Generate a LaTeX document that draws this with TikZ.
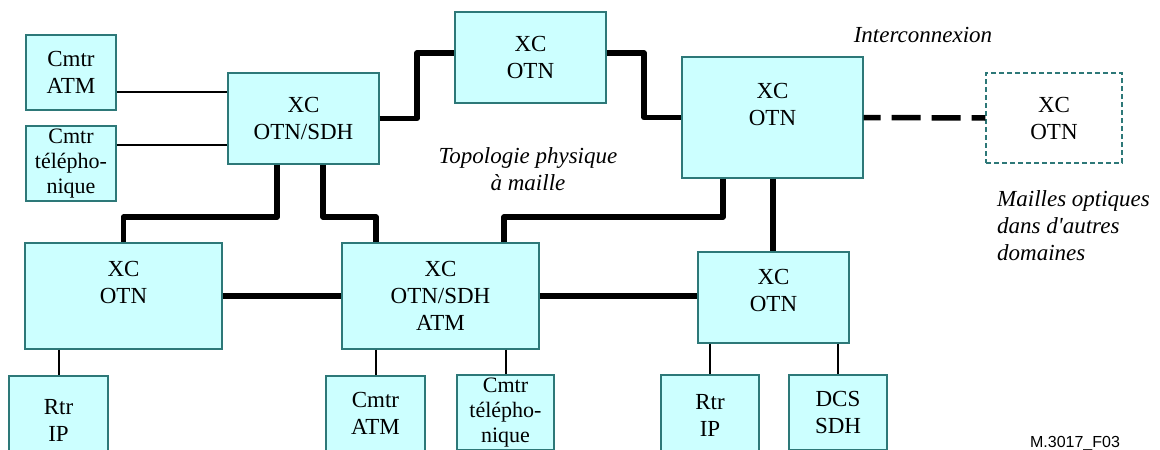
\documentclass[tikz,border=0pt]{standalone}
\usepackage{fontspec}
\setmainfont{Liberation Serif}
\newfontfamily\refsans{Liberation Sans}
\usepackage{xcolor}
\usepackage{tikz}

\definecolor{boxfill}{RGB}{204,255,255}
\definecolor{boxedge}{RGB}{45,120,120}

\begin{document}
\begin{tikzpicture}[x=1pt, y=-1pt,
  box/.style={draw=boxedge, fill=boxfill, line width=1.2pt, inner sep=0pt,
    align=center, font=\fontsize{23}{27}\selectfont},
  telbox/.style={box, font=\fontsize{22}{25}\selectfont},
  extbox/.style={box, fill=white, dash pattern=on 5pt off 3pt},
  link/.style={line width=2pt},
  trunk/.style={line width=5.5pt, line join=round},
  trunkdash/.style={line width=5.5pt, dash pattern=on 29pt off 11pt, dash phase=12pt},
  note/.style={inner sep=0pt, font=\fontsize{23}{27}\selectfont\itshape}]

  \useasboundingbox (0,0) rectangle (1160,450);
  \clip (0,0) rectangle (1160,450);

  % upper row
  \node[box, minimum width=90pt, minimum height=75pt] (atm1) at (71,72.5) {Cmtr\\ATM};
  \node[telbox, minimum width=90pt, minimum height=75pt] (tel1) at (71,163.5) {Cmtr\\télépho-\\nique};
  \node[box, minimum width=151pt, minimum height=91pt] (xc1) at (303.5,118.5) {XC\\OTN/SDH};
  \node[box, minimum width=151pt, minimum height=91pt] (xc2) at (530.5,57.5) {XC\\OTN};
  \node[box, minimum width=181pt, minimum height=121pt] (xc3) at (772.5,117.5) {XC\\OTN\\\mbox{}};
  \node[extbox, minimum width=136pt, minimum height=90pt] (ext) at (1054,118) {XC\\OTN};

  % lower row
  \node[box, minimum width=197pt, minimum height=106pt] (xc4) at (123.5,296) {XC\\OTN\\\mbox{}};
  \node[box, minimum width=197pt, minimum height=106pt] (xc5) at (440.5,296) {XC\\OTN/SDH\\ATM};
  \node[box, minimum width=151pt, minimum height=91pt] (xc6) at (773.5,297.5) {XC\\OTN\\[-13.5pt]\mbox{}};

  % access equipment
  \node[box, minimum width=99pt, minimum height=88pt] (rtr1) at (58.5,420) {Rtr\\IP};
  \node[box, minimum width=99pt, minimum height=75pt] (atm2) at (375.5,413.5) {Cmtr\\ATM};
  \node[telbox, minimum width=97pt, minimum height=75pt] (tel2) at (505.5,412.5) {Cmtr\\télépho-\\nique};
  \node[box, minimum width=98pt, minimum height=80pt] (rtr2) at (710,415) {Rtr\\IP};
  \node[box, minimum width=98pt, minimum height=75pt] (dcs) at (838,412.5) {DCS\\SDH};

  % thin links
  \draw[link] (atm1.east |- 0,92) -- (xc1.west |- 0,92);
  \draw[link] (tel1.east |- 0,145) -- (xc1.west |- 0,145);
  \draw[link] (rtr1.north |- xc4.south) -- (rtr1.north);
  \draw[link] (atm2.north |- xc5.south) -- (atm2.north);
  \draw[link] (tel2.north |- xc5.south) -- (tel2.north);
  \draw[link] (rtr2.north |- xc6.south) -- (rtr2.north);
  \draw[link] (dcs.north |- xc6.south) -- (dcs.north);

  % mesh
  \draw[trunk] (xc1.east) -- (417,118.5) |- (xc2.west |- 0,53);
  \draw[trunk] (xc2.east |- 0,53) -- (644,53) |- (xc3.west);
  \draw[trunk] (xc1.south -| 277,0) -- (277,217) -| (xc4.north);
  \draw[trunk] (xc1.south -| 323,0) -- (323,217) -| (xc5.north -| 376,0);
  \draw[trunk] (xc3.south -| 723,0) -- (723,217) -| (xc5.north -| 504,0);
  \draw[trunk] (xc3.south -| 773,0) -- (xc6.north -| 773,0);
  \draw[trunk] (xc4.east) -- (xc5.west);
  \draw[trunk] (xc5.east) -- (xc6.west |- xc5.east);
  \draw[trunkdash] (xc3.east) -- (ext.west);

  % labels
  \node[note, anchor=base] (inter) at (923,42) {Interconnexion};
  \node[note, anchor=base, align=center] (topo) at (528,190) {Topologie physique\\à maille};
  \node[note, anchor=base west, align=left] (dom) at (997,260) {Mailles optiques\\dans d\textquotesingle autres\\domaines};
  \node[inner sep=0pt, anchor=base, font=\refsans\fontsize{16}{19}\selectfont] (ref) at (1075,447) {M.3017\_F03};
\end{tikzpicture}
\end{document}
